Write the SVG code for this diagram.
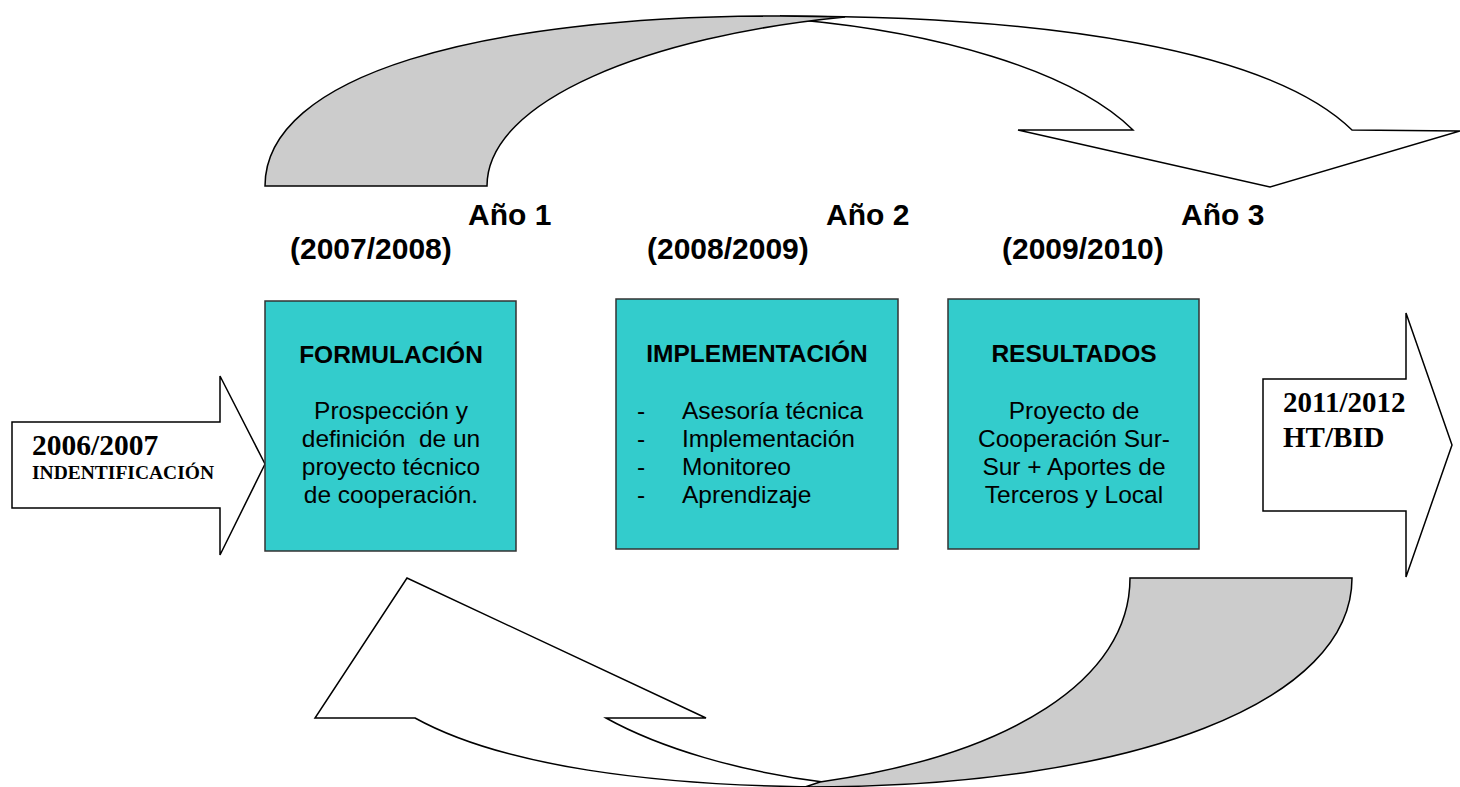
<svg xmlns="http://www.w3.org/2000/svg" width="1460" height="787" viewBox="0 0 1460 787">
<style>
.shape{stroke:#000;stroke-width:1.5;stroke-linejoin:miter}
.white{fill:#fff}
.gray{fill:#ccc}
.box{fill:#33cccc;stroke:#333;stroke-width:1.5}
.t{font-family:"Liberation Sans",Arial,sans-serif;fill:#000}
.title{font-size:24.5px;font-weight:bold;text-anchor:middle}
.body{font-size:24.5px}
.mid{text-anchor:middle}
.year{font-family:"Liberation Sans",Arial,sans-serif;font-size:30px;font-weight:bold;fill:#000}
.serif{font-family:"Liberation Serif","Times New Roman",serif;font-weight:bold;fill:#000}
</style>
<rect width="1460" height="787" fill="#fff"/>
<g id="connectors">
  <g id="top-arrow">
    <path class="shape white" d="M780,16 C1050,16 1270,50 1352,130 L1460,131 L1270,187 L1018,130 L1133,130 C1070,68 930,32 800,20 Z"/>
    <path class="shape gray" d="M265,186 C265,75 480,16 780,16 L845,17 C650,36 487,100 487,186 Z"/>
  </g>
  <g id="bottom-arrow">
    <path class="shape white" d="M415,718 L315,718 L407,578 L706,718 L606,718 C660,748 740,772 830,783 L840,787 C650,787 500,765 415,718 Z"/>
    <path class="shape gray" d="M1130,578 L1352,578 C1352,700 1140,787 805,787 L820,782 C1010,755 1130,680 1130,578 Z"/>
  </g>
</g>
<g id="node-identificacion">
  <path class="shape white" d="M12,422 L220,422 L220,376 L265,464 L220,555 L220,508 L12,508 Z"/>
  <text class="serif" x="32" y="455" font-size="29.5">2006/2007</text>
  <text class="serif" x="32" y="479" font-size="19.5">INDENTIFICACIÓN</text>
</g>
<g id="node-htbid">
  <path class="shape white" d="M1263,379 L1406,379 L1406,313 L1452,445 L1406,577 L1406,511 L1263,511 Z"/>
  <text class="serif" x="1283" y="412" font-size="29">2011/2012</text>
  <text class="serif" x="1283" y="447" font-size="29">HT/BID</text>
</g>
<g id="label-ano1">
  <text class="year" x="468" y="225">Año 1</text>
  <text class="year" x="290" y="259">(2007/2008)</text>
</g>
<g id="label-ano2">
  <text class="year" x="826" y="225">Año 2</text>
  <text class="year" x="647" y="259">(2008/2009)</text>
</g>
<g id="label-ano3">
  <text class="year" x="1181" y="225">Año 3</text>
  <text class="year" x="1002" y="259">(2009/2010)</text>
</g>
<g id="node-formulacion">
  <rect class="box" x="265" y="301" width="251" height="250"/>
  <text class="t title" x="391" y="363">FORMULACIÓN</text>
  <text class="t body mid" x="391" y="419">Prospección y</text>
  <text class="t body mid" x="391" y="447" xml:space="preserve">definición  de un</text>
  <text class="t body mid" x="391" y="475">proyecto técnico</text>
  <text class="t body mid" x="391" y="503">de cooperación.</text>
</g>
<g id="node-implementacion">
  <rect class="box" x="616" y="299" width="282" height="250"/>
  <text class="t title" x="757" y="362" font-size="23">IMPLEMENTACIÓN</text>
  <text class="t body" x="637" y="419">-</text>
  <text class="t body" x="682" y="419">Asesoría técnica</text>
  <text class="t body" x="637" y="447">-</text>
  <text class="t body" x="682" y="447">Implementación</text>
  <text class="t body" x="637" y="475">-</text>
  <text class="t body" x="682" y="475">Monitoreo</text>
  <text class="t body" x="637" y="503">-</text>
  <text class="t body" x="682" y="503">Aprendizaje</text>
</g>
<g id="node-resultados">
  <rect class="box" x="948" y="299" width="251" height="250"/>
  <text class="t title" x="1074" y="362">RESULTADOS</text>
  <text class="t body mid" x="1074" y="419">Proyecto de</text>
  <text class="t body mid" x="1074" y="447">Cooperación Sur-</text>
  <text class="t body mid" x="1074" y="475">Sur + Aportes de</text>
  <text class="t body mid" x="1074" y="503">Terceros y Local</text>
</g>
</svg>
